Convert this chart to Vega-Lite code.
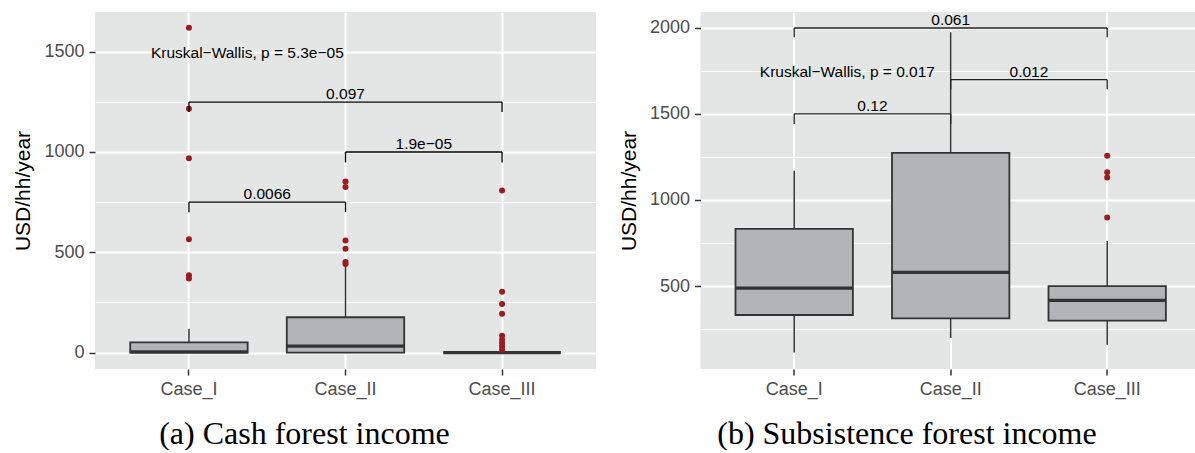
{
  "$schema": "https://vega.github.io/schema/vega-lite/v6.json",
  "background": "white",
  "padding": {"left": 12, "top": 12, "right": 0, "bottom": 0},
  "spacing": 21.5,
  "config": {
    "view": {"fill": "#E4E5E5", "stroke": null},
    "font": "Liberation Sans",
    "axis": {
      "domain": false,
      "tickColor": "#333333",
      "tickWidth": 1.5,
      "tickSize": 6,
      "labelPadding": 5,
      "labelFont": "Liberation Sans",
      "labelFontSize": 18,
      "labelColor": "#4D4D4D",
      "gridColor": "#FFFFFF",
      "gridWidth": 2,
      "titleFont": "Liberation Sans",
      "titleFontSize": 21,
      "titleFontWeight": "normal",
      "titleColor": "#000000",
      "titlePadding": 10
    }
  },
  "datasets": {
    "box_a": [
      {"case": "Case_I", "lo": 0, "q1": 0, "med": 3, "q3": 51, "hi": 119},
      {"case": "Case_II", "lo": 0, "q1": 0, "med": 32, "q3": 176, "hi": 441},
      {"case": "Case_III", "lo": 0, "q1": 0, "med": 0, "q3": 0, "hi": 0}
    ],
    "out_a": [
      {"case": "Case_I", "v": 1619}, {"case": "Case_I", "v": 1215}, {"case": "Case_I", "v": 969},
      {"case": "Case_I", "v": 565}, {"case": "Case_I", "v": 386}, {"case": "Case_I", "v": 369},
      {"case": "Case_II", "v": 853}, {"case": "Case_II", "v": 825}, {"case": "Case_II", "v": 559},
      {"case": "Case_II", "v": 518}, {"case": "Case_II", "v": 451}, {"case": "Case_II", "v": 441},
      {"case": "Case_III", "v": 808}, {"case": "Case_III", "v": 303}, {"case": "Case_III", "v": 242},
      {"case": "Case_III", "v": 194}, {"case": "Case_III", "v": 84}, {"case": "Case_III", "v": 64},
      {"case": "Case_III", "v": 48}, {"case": "Case_III", "v": 31}, {"case": "Case_III", "v": 14}
    ],
    "br_a": [
      {"from": "Case_I", "to": "Case_II", "mid": "Case_I", "y": 750, "tip": 700, "label": "0.0066", "span": 1},
      {"from": "Case_II", "to": "Case_III", "mid": "Case_II", "y": 1000, "tip": 948, "label": "1.9e−05", "span": 1},
      {"from": "Case_I", "to": "Case_III", "mid": "Case_II", "y": 1249, "tip": 1199, "label": "0.097", "span": 2}
    ],
    "kw_a": [{"case": "Case_I", "y": 1493, "label": "Kruskal−Wallis, p = 5.3e−05"}],
    "box_b": [
      {"case": "Case_I", "lo": 115, "q1": 332, "med": 488, "q3": 832, "hi": 1170},
      {"case": "Case_II", "lo": 198, "q1": 312, "med": 579, "q3": 1273, "hi": 1973},
      {"case": "Case_III", "lo": 160, "q1": 299, "med": 417, "q3": 500, "hi": 761}
    ],
    "out_b": [
      {"case": "Case_III", "v": 1256}, {"case": "Case_III", "v": 1161},
      {"case": "Case_III", "v": 1130}, {"case": "Case_III", "v": 898}
    ],
    "br_b": [
      {"from": "Case_I", "to": "Case_II", "mid": "Case_I", "y": 1500, "tip": 1441, "label": "0.12", "span": 1},
      {"from": "Case_II", "to": "Case_III", "mid": "Case_II", "y": 1698, "tip": 1642, "label": "0.012", "span": 1},
      {"from": "Case_I", "to": "Case_III", "mid": "Case_II", "y": 1998, "tip": 1944, "label": "0.061", "span": 2}
    ],
    "kw_b": [{"case": "Case_I", "y": 1745, "label": "Kruskal−Wallis, p = 0.017"}]
  },
  "hconcat": [
    {
      "width": 501,
      "height": 357,
      "title": {"text": "(a) Cash forest income", "orient": "bottom", "anchor": "middle", "frame": "bounds", "font": "Liberation Serif", "fontSize": 32, "fontWeight": "normal", "color": "#000000", "offset": 21},
      "resolve": {"axis": {"y": "independent"}},
      "layer": [
        {
          "data": {"name": "box_a"},
          "mark": {"type": "rule", "color": "#333333", "strokeWidth": 1.5},
          "encoding": {
            "x": {"field": "case", "type": "nominal", "scale": {"type": "band", "domain": ["Case_I", "Case_II", "Case_III"], "paddingInner": 0.25, "paddingOuter": 0.225, "align": 0.5}, "axis": {"title": null, "labelAngle": 0, "grid": true}},
            "y": {"field": "lo", "type": "quantitative", "scale": {"domain": [-82, 1698], "nice": false, "zero": false}, "axis": {"orient": "left", "values": [250, 750, 1250], "grid": true, "gridWidth": 1, "labels": false, "ticks": false, "domain": false, "title": null}},
            "y2": {"field": "hi"}
          }
        },
        {
          "data": {"name": "box_a"},
          "mark": {"type": "bar", "fill": "#B2B5B6", "stroke": "#333333", "strokeWidth": 1.8},
          "encoding": {
            "x": {"field": "case", "type": "nominal", "scale": {"type": "band", "domain": ["Case_I", "Case_II", "Case_III"], "paddingInner": 0.25, "paddingOuter": 0.225, "align": 0.5}, "axis": {"title": null, "labelAngle": 0, "grid": true}},
            "y": {"field": "q1", "type": "quantitative", "axis": {"orient": "left", "values": [0, 500, 1000, 1500], "format": "d", "grid": true, "title": "USD/hh/year"}},
            "y2": {"field": "q3"}
          }
        },
        {
          "data": {"name": "box_a"},
          "mark": {"type": "bar", "fill": "#333333", "stroke": "#333333", "strokeWidth": 3.2},
          "encoding": {
            "x": {"field": "case", "type": "nominal", "scale": {"type": "band", "domain": ["Case_I", "Case_II", "Case_III"], "paddingInner": 0.25, "paddingOuter": 0.225, "align": 0.5}, "axis": {"title": null, "labelAngle": 0, "grid": true}},
            "y": {"field": "med", "type": "quantitative", "axis": null},
            "y2": {"field": "med"}
          }
        },
        {
          "data": {"name": "out_a"},
          "mark": {"type": "point", "filled": true, "color": "#9B1B1F", "opacity": 1, "size": 36},
          "encoding": {
            "x": {"field": "case", "type": "nominal", "scale": {"type": "band", "domain": ["Case_I", "Case_II", "Case_III"], "paddingInner": 0.25, "paddingOuter": 0.225, "align": 0.5}, "axis": {"title": null, "labelAngle": 0, "grid": true}},
            "y": {"field": "v", "type": "quantitative", "axis": null}
          }
        },
        {
          "data": {"name": "br_a"},
          "mark": {"type": "rule", "color": "#000000", "strokeWidth": 1.3},
          "encoding": {
            "x": {"field": "from", "type": "nominal", "scale": {"type": "band", "domain": ["Case_I", "Case_II", "Case_III"], "paddingInner": 0.25, "paddingOuter": 0.225, "align": 0.5}, "axis": {"title": null, "labelAngle": 0, "grid": true}},
            "x2": {"field": "to"},
            "y": {"field": "y", "type": "quantitative", "axis": null}
          }
        },
        {
          "data": {"name": "br_a"},
          "mark": {"type": "rule", "color": "#000000", "strokeWidth": 1.3},
          "encoding": {
            "x": {"field": "from", "type": "nominal", "scale": {"type": "band", "domain": ["Case_I", "Case_II", "Case_III"], "paddingInner": 0.25, "paddingOuter": 0.225, "align": 0.5}, "axis": {"title": null, "labelAngle": 0, "grid": true}},
            "y": {"field": "tip", "type": "quantitative", "axis": null},
            "y2": {"field": "y"}
          }
        },
        {
          "data": {"name": "br_a"},
          "mark": {"type": "rule", "color": "#000000", "strokeWidth": 1.3},
          "encoding": {
            "x": {"field": "to", "type": "nominal", "scale": {"type": "band", "domain": ["Case_I", "Case_II", "Case_III"], "paddingInner": 0.25, "paddingOuter": 0.225, "align": 0.5}, "axis": {"title": null, "labelAngle": 0, "grid": true}},
            "y": {"field": "tip", "type": "quantitative", "axis": null},
            "y2": {"field": "y"}
          }
        },
        {
          "data": {"name": "br_a"},
          "transform": [{"filter": "datum.span == 1"}],
          "mark": {"type": "text", "font": "Liberation Sans", "fontSize": 15.5, "color": "#000000", "baseline": "alphabetic", "align": "center", "dx": 78.3, "dy": -3},
          "encoding": {
            "x": {"field": "mid", "type": "nominal", "scale": {"type": "band", "domain": ["Case_I", "Case_II", "Case_III"], "paddingInner": 0.25, "paddingOuter": 0.225, "align": 0.5}, "axis": {"title": null, "labelAngle": 0, "grid": true}},
            "y": {"field": "y", "type": "quantitative", "axis": null},
            "text": {"field": "label"}
          }
        },
        {
          "data": {"name": "br_a"},
          "transform": [{"filter": "datum.span == 2"}],
          "mark": {"type": "text", "font": "Liberation Sans", "fontSize": 15.5, "color": "#000000", "baseline": "alphabetic", "align": "center", "dy": -3},
          "encoding": {
            "x": {"field": "mid", "type": "nominal", "scale": {"type": "band", "domain": ["Case_I", "Case_II", "Case_III"], "paddingInner": 0.25, "paddingOuter": 0.225, "align": 0.5}, "axis": {"title": null, "labelAngle": 0, "grid": true}},
            "y": {"field": "y", "type": "quantitative", "axis": null},
            "text": {"field": "label"}
          }
        },
        {
          "data": {"name": "kw_a"},
          "mark": {"type": "text", "font": "Liberation Sans", "fontSize": 15.5, "color": "#000000", "baseline": "middle", "align": "left", "dx": -38},
          "encoding": {
            "x": {"field": "case", "type": "nominal", "scale": {"type": "band", "domain": ["Case_I", "Case_II", "Case_III"], "paddingInner": 0.25, "paddingOuter": 0.225, "align": 0.5}, "axis": {"title": null, "labelAngle": 0, "grid": true}},
            "y": {"field": "y", "type": "quantitative", "axis": null},
            "text": {"field": "label"}
          }
        }
      ]
    },
    {
      "width": 495,
      "height": 357,
      "title": {"text": "(b) Subsistence forest income", "orient": "bottom", "anchor": "middle", "frame": "bounds", "font": "Liberation Serif", "fontSize": 32, "fontWeight": "normal", "color": "#000000", "offset": 21},
      "resolve": {"axis": {"y": "independent"}},
      "layer": [
        {
          "data": {"name": "box_b"},
          "mark": {"type": "rule", "color": "#333333", "strokeWidth": 1.5},
          "encoding": {
            "x": {"field": "case", "type": "nominal", "scale": {"type": "band", "domain": ["Case_I", "Case_II", "Case_III"], "paddingInner": 0.25, "paddingOuter": 0.2065, "align": 0.5417}, "axis": {"title": null, "labelAngle": 0, "grid": true}},
            "y": {"field": "lo", "type": "quantitative", "scale": {"domain": [18.6, 2091], "nice": false, "zero": false}, "axis": {"orient": "left", "values": [250, 750, 1250, 1750], "grid": true, "gridWidth": 1, "labels": false, "ticks": false, "domain": false, "title": null}},
            "y2": {"field": "hi"}
          }
        },
        {
          "data": {"name": "box_b"},
          "mark": {"type": "bar", "fill": "#B2B5B6", "stroke": "#333333", "strokeWidth": 1.8},
          "encoding": {
            "x": {"field": "case", "type": "nominal", "scale": {"type": "band", "domain": ["Case_I", "Case_II", "Case_III"], "paddingInner": 0.25, "paddingOuter": 0.2065, "align": 0.5417}, "axis": {"title": null, "labelAngle": 0, "grid": true}},
            "y": {"field": "q1", "type": "quantitative", "axis": {"orient": "left", "values": [500, 1000, 1500, 2000], "format": "d", "grid": true, "title": "USD/hh/year"}},
            "y2": {"field": "q3"}
          }
        },
        {
          "data": {"name": "box_b"},
          "mark": {"type": "bar", "fill": "#333333", "stroke": "#333333", "strokeWidth": 3.2},
          "encoding": {
            "x": {"field": "case", "type": "nominal", "scale": {"type": "band", "domain": ["Case_I", "Case_II", "Case_III"], "paddingInner": 0.25, "paddingOuter": 0.2065, "align": 0.5417}, "axis": {"title": null, "labelAngle": 0, "grid": true}},
            "y": {"field": "med", "type": "quantitative", "axis": null},
            "y2": {"field": "med"}
          }
        },
        {
          "data": {"name": "out_b"},
          "mark": {"type": "point", "filled": true, "color": "#9B1B1F", "opacity": 1, "size": 36},
          "encoding": {
            "x": {"field": "case", "type": "nominal", "scale": {"type": "band", "domain": ["Case_I", "Case_II", "Case_III"], "paddingInner": 0.25, "paddingOuter": 0.2065, "align": 0.5417}, "axis": {"title": null, "labelAngle": 0, "grid": true}},
            "y": {"field": "v", "type": "quantitative", "axis": null}
          }
        },
        {
          "data": {"name": "br_b"},
          "mark": {"type": "rule", "color": "#222222", "strokeWidth": 1.3},
          "encoding": {
            "x": {"field": "from", "type": "nominal", "scale": {"type": "band", "domain": ["Case_I", "Case_II", "Case_III"], "paddingInner": 0.25, "paddingOuter": 0.2065, "align": 0.5417}, "axis": {"title": null, "labelAngle": 0, "grid": true}},
            "x2": {"field": "to"},
            "y": {"field": "y", "type": "quantitative", "axis": null}
          }
        },
        {
          "data": {"name": "br_b"},
          "mark": {"type": "rule", "color": "#222222", "strokeWidth": 1.3},
          "encoding": {
            "x": {"field": "from", "type": "nominal", "scale": {"type": "band", "domain": ["Case_I", "Case_II", "Case_III"], "paddingInner": 0.25, "paddingOuter": 0.2065, "align": 0.5417}, "axis": {"title": null, "labelAngle": 0, "grid": true}},
            "y": {"field": "tip", "type": "quantitative", "axis": null},
            "y2": {"field": "y"}
          }
        },
        {
          "data": {"name": "br_b"},
          "mark": {"type": "rule", "color": "#222222", "strokeWidth": 1.3},
          "encoding": {
            "x": {"field": "to", "type": "nominal", "scale": {"type": "band", "domain": ["Case_I", "Case_II", "Case_III"], "paddingInner": 0.25, "paddingOuter": 0.2065, "align": 0.5417}, "axis": {"title": null, "labelAngle": 0, "grid": true}},
            "y": {"field": "tip", "type": "quantitative", "axis": null},
            "y2": {"field": "y"}
          }
        },
        {
          "data": {"name": "br_b"},
          "transform": [{"filter": "datum.span == 1"}],
          "mark": {"type": "text", "font": "Liberation Sans", "fontSize": 15.5, "color": "#000000", "baseline": "alphabetic", "align": "center", "dx": 78.25, "dy": -3},
          "encoding": {
            "x": {"field": "mid", "type": "nominal", "scale": {"type": "band", "domain": ["Case_I", "Case_II", "Case_III"], "paddingInner": 0.25, "paddingOuter": 0.2065, "align": 0.5417}, "axis": {"title": null, "labelAngle": 0, "grid": true}},
            "y": {"field": "y", "type": "quantitative", "axis": null},
            "text": {"field": "label"}
          }
        },
        {
          "data": {"name": "br_b"},
          "transform": [{"filter": "datum.span == 2"}],
          "mark": {"type": "text", "font": "Liberation Sans", "fontSize": 15.5, "color": "#000000", "baseline": "alphabetic", "align": "center", "dy": -3},
          "encoding": {
            "x": {"field": "mid", "type": "nominal", "scale": {"type": "band", "domain": ["Case_I", "Case_II", "Case_III"], "paddingInner": 0.25, "paddingOuter": 0.2065, "align": 0.5417}, "axis": {"title": null, "labelAngle": 0, "grid": true}},
            "y": {"field": "y", "type": "quantitative", "axis": null},
            "text": {"field": "label"}
          }
        },
        {
          "data": {"name": "kw_b"},
          "mark": {"type": "text", "font": "Liberation Sans", "fontSize": 15.5, "color": "#000000", "baseline": "middle", "align": "left", "dx": -34.4},
          "encoding": {
            "x": {"field": "case", "type": "nominal", "scale": {"type": "band", "domain": ["Case_I", "Case_II", "Case_III"], "paddingInner": 0.25, "paddingOuter": 0.2065, "align": 0.5417}, "axis": {"title": null, "labelAngle": 0, "grid": true}},
            "y": {"field": "y", "type": "quantitative", "axis": null},
            "text": {"field": "label"}
          }
        }
      ]
    }
  ]
}
